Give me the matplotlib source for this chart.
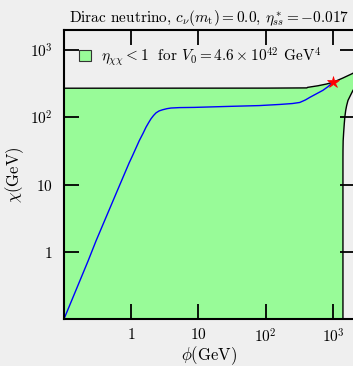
import matplotlib.pyplot as plt
from matplotlib.patches import Patch

plt.rcParams['font.family'] = 'cmr10'
plt.rcParams['mathtext.fontset'] = 'cm'
plt.rcParams['axes.formatter.use_mathtext'] = True

# upper edge of the eta < 1 region (phi, chi)
upper_phi = [0.1, 100, 409, 420, 600, 800, 1000, 1400, 1990, 2400]
upper_chi = [272, 273, 275, 280, 296, 314, 333, 385, 454, 560]

# right edge of the region, from top to bottom (phi, chi)
right_phi = [2400, 1990, 1820, 1675, 1600, 1549, 1505, 1476, 1445, 1420, 1412, 1410, 1410]
right_chi = [330, 253, 212, 179, 150, 127, 102, 81, 60, 45, 32, 22.8, 0.1]

# blue trajectory
traj_phi = [0.1, 0.228, 0.30, 0.6, 0.93, 1.046, 1.316, 1.5, 1.66, 1.82, 1.97, 2.15,
            2.34, 2.6, 2.93, 3.4, 3.91, 5.2, 8.7, 29, 80, 162, 250,
            321, 390, 454, 570, 709, 850, 1000]
traj_chi = [0.1, 0.73, 1.46, 7.5, 21, 27, 45, 58, 71.6, 84, 95.6, 107,
            117, 125, 130, 135, 138, 140, 141, 146, 150, 156, 161,
            167, 182, 199, 225, 253, 288, 333]

star_phi = 1000
star_chi = 333

fig = plt.figure(figsize=(3.53, 3.66), dpi=100, facecolor='#efefef')
ax = fig.add_axes([64/353, 47/366, 291/353, 289/366])
ax.set_facecolor('none')

poly_x = upper_phi + right_phi + [0.1]
poly_y = upper_chi + right_chi + [0.1]
ax.fill(poly_x, poly_y, facecolor='#98fb98', edgecolor='black', linewidth=1.0)

ax.plot(traj_phi, traj_chi, color='blue', linewidth=1.0)
ax.plot(star_phi, star_chi, marker='*', color='red', markersize=9,
        markeredgewidth=0.5, linestyle='none')

ax.set_xscale('log')
ax.set_yscale('log')
ax.set_xlim(0.1, 2130)
ax.set_ylim(0.1, 2000)
ax.set_xticks([1, 10, 100, 1000])
ax.set_xticklabels(['$1$', '$10$', '$10^2$', '$10^3$'])
ax.set_yticks([1, 10, 100, 1000])
ax.set_yticklabels(['$1$', '$10$', '$10^2$', '$10^3$'])
ax.minorticks_off()
ax.tick_params(which='major', direction='in', length=11, width=1.3,
               top=True, right=True, labelsize=11, pad=8)
ax.tick_params(axis='x', pad=6)
for s in ax.spines.values():
    s.set_linewidth(1.5)

ax.set_xlabel(r'$\phi$(GeV)', fontsize=12, labelpad=-1)
ax.set_ylabel(r'$\chi$(GeV)', fontsize=12, labelpad=3)
ax.set_title(r'Dirac neutrino, $c_\nu(m_{\rm t}) = 0.0$, $\eta^*_{ss} = -0.017$',
             fontsize=11, pad=6)

handle = Patch(facecolor='#98fb98', edgecolor='#333333', linewidth=0.8)
ax.legend([handle], [r'$\eta_{\chi\chi} < 1$  for $V_0 = 4.6\times 10^{42}$ GeV$^4$'],
          loc='upper left', frameon=False, fontsize=11, handlelength=0.75,
          handleheight=0.75, handletextpad=0.7, borderaxespad=0.6)

fig.savefig('out.png', dpi=100, facecolor=fig.get_facecolor())
